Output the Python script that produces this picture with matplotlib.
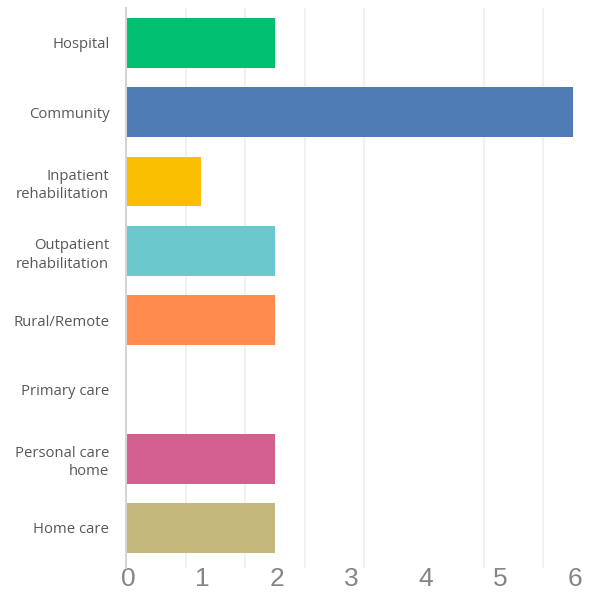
import numpy as np
import matplotlib.pyplot as plt
from matplotlib.ticker import MultipleLocator
from matplotlib.transforms import ScaledTranslation

categories = ['Hospital', 'Community', 'Inpatient\nrehabilitation',
              'Outpatient\nrehabilitation', 'Rural/Remote', 'Primary care',
              'Personal care\nhome', 'Home care']
counts = [2, 6, 1, 2, 2, 0, 2, 2]
colors = ['#00BF6F', '#507CB6', '#F9BE00', '#6BC8CD',
          '#FF8B4F', '#A7A7A7', '#D25F90', '#C4B77C']
xticks = [0, 1, 2, 3, 4, 5, 6]

fig = plt.figure(figsize=(6.03, 5.93), dpi=100)
ax = fig.add_axes([0.209, 0.042, 0.772, 0.944])

y = np.arange(len(categories))
ax.barh(y, counts, height=0.72, color=colors, zorder=3)

ax.set_xlim(0, 6.25)
ax.set_ylim(7.58, -0.5)

# gridlines sit on a finer spacing than the labelled ticks
ax.xaxis.set_minor_locator(MultipleLocator(0.8))
ax.grid(which='minor', axis='x', color='#EDEDED', lw=1.2, zorder=0)
ax.set_xticks(xticks)
ax.set_xticklabels([str(v) for v in xticks], fontsize=19,
                   color='#858585', family='Liberation Sans')
ax.tick_params(axis='x', which='both', length=0, pad=0)
offset = ScaledTranslation(2 / 100, 1 / 100, fig.dpi_scale_trans)
for lab in ax.get_xticklabels():
    lab.set_transform(lab.get_transform() + offset)

ax.set_yticks(y)
ax.set_yticklabels(categories, fontsize=10.7, color='#585858',
                   family='Open Sans', linespacing=1.35)
ax.tick_params(axis='y', length=0, pad=12)

for side in ['top', 'right', 'bottom']:
    ax.spines[side].set_visible(False)
ax.spines['left'].set_color('#D5D5D5')
ax.spines['left'].set_linewidth(1.5)
ax.spines['left'].set_zorder(4)

fig.savefig('out.png', dpi=100)
